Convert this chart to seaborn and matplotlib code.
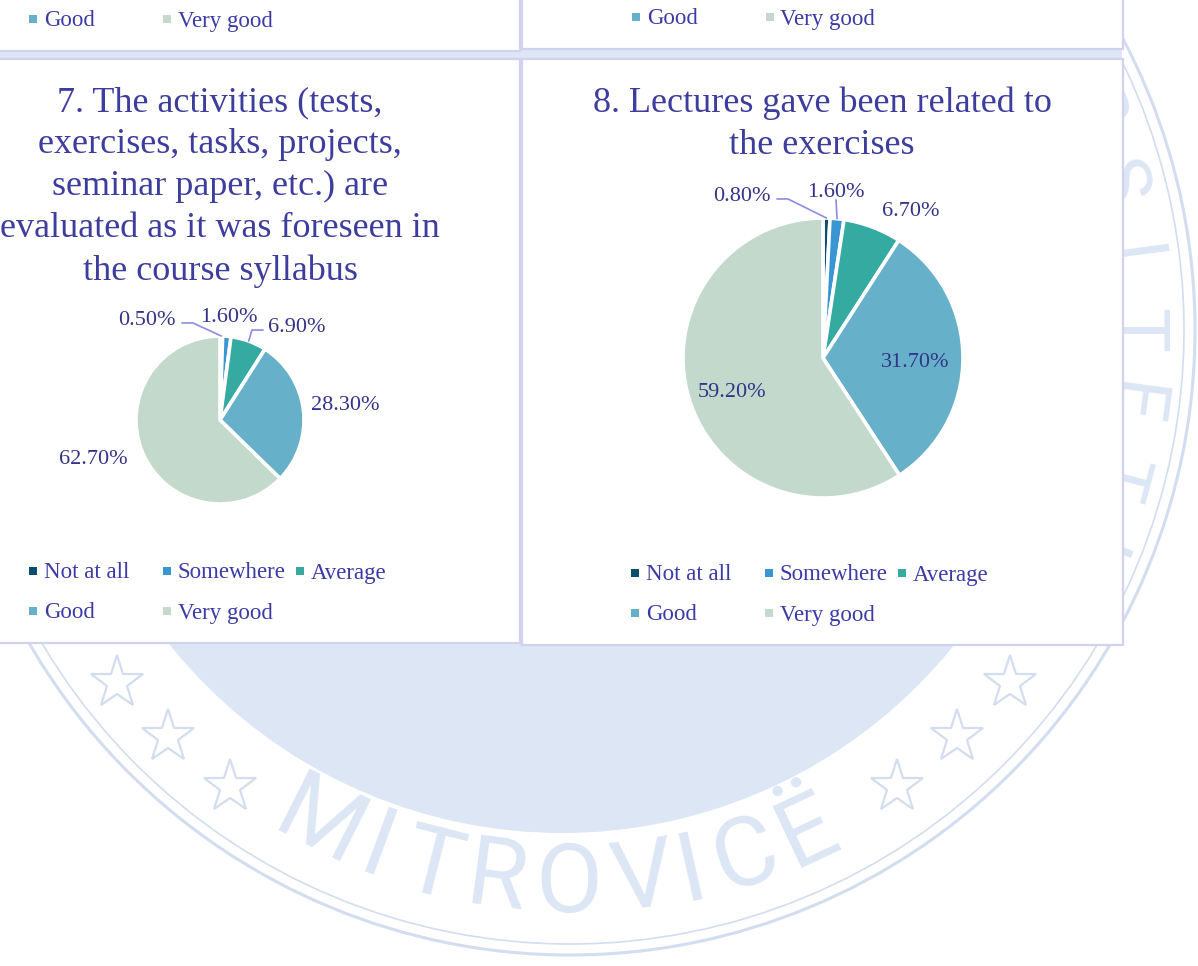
import numpy as np
import matplotlib
matplotlib.use("Agg")
import matplotlib.pyplot as plt
from matplotlib.patches import Rectangle, Circle
import seaborn as sns

# 数据
categories = ["Not at all", "Somewhere", "Average", "Good", "Very good"]
q7_title = ("7. The activities (tests,\nexercises, tasks, projects,\nseminar paper, etc.) are\n"
            "evaluated as it was foreseen in\nthe course syllabus")
q7_values = [0.5, 1.6, 6.9, 28.3, 62.7]
q8_title = "8. Lectures gave been related to\nthe exercises"
q8_values = [0.8, 1.6, 6.7, 31.7, 59.2]

# 标签位置（饼图半径为单位）
q7_label_pos = [(-0.869, 1.214), (0.101, 1.25), (0.917, 1.131), (1.488, 0.202), (-1.512, -0.44)]
q7_leaders = {0: [(-0.452, 1.155), (-0.321, 1.155)], 2: [(0.512, 1.071), (0.381, 1.071)]}
q8_label_pos = [(-0.579, 1.171), (0.093, 1.20), (0.629, 1.064), (0.657, -0.014), (-0.65, -0.229)]
q8_leaders = {0: [(-0.329, 1.136), (-0.25, 1.136)], 1: [(0.093, 1.129)]}

palette = sns.color_palette(["#0c4c6c", "#3a96d2", "#35aaa1", "#66b1c9", "#c2d9cc"])
title_color = "#3d3d9e"
label_color = "#333388"
legend_color = "#3b3ba5"
leader_color = "#8c8ce0"
wm_color = "#dce6f5"
wm_line = "#d2ddef"

W, H = 1198, 966
sns.set_theme(style="white")
plt.rcParams["font.family"] = ["Liberation Serif", "DejaVu Serif"]

fig = plt.figure(figsize=(W / 100, H / 100), dpi=100)
fig.patch.set_facecolor("white")
bg = fig.add_axes([0, 0, 1, 1])
bg.set_xlim(0, W)
bg.set_ylim(H, 0)
bg.axis("off")

# 背景水印
cy = 330
bg.add_patch(Circle((562, cy), 503, fc=wm_color, ec="none", zorder=0))
bg.add_patch(Circle((570, cy), 625, fill=False, ec=wm_line, lw=2.2, zorder=0))
bg.add_patch(Circle((570, cy), 614, fill=False, ec=wm_line, lw=1.2, zorder=0))
bg.add_patch(Rectangle((0, 49), 1122, 10, fc=wm_color, ec="none", zorder=0.5))
star_x = [117, 168, 230, 1010, 957, 897]
star_y = [683, 737, 787, 683, 737, 787]
bg.plot(star_x, star_y, ls="none", marker="*", ms=40, mfc="none", mec=wm_line, mew=1.6, zorder=0)

wm_font = dict(family=["Roboto", "Liberation Sans", "DejaVu Sans"], fontweight="normal", color=wm_color, zorder=0)
word = "MITROVICË"
word_angles = [-26.8, -20.3, -14.3, -7.5, -0.1, 7.5, 12.6, 18.4, 25.3]
for ch, phi in zip(word, word_angles):
    a = np.radians(-90 + phi)
    bg.text(570 + 556 * np.cos(a), cy - 556 * np.sin(a), ch, rotation=phi,
            ha="center", va="center", fontsize=70, **wm_font)
word = "ERSITETI"
for i, ch in enumerate(word):
    deg = 30 - i * 7.5
    a = np.radians(deg)
    bg.text(570 + 565 * np.cos(a), cy - 565 * np.sin(a), ch, rotation=deg - 90,
            ha="center", va="center", fontsize=54, **wm_font)

# 面板
panels = [(-10, -60, 530, 111), (522, -60, 601, 109), (-10, 59, 530, 584), (522, 59, 601, 586)]
for x, y, w, h in panels:
    bg.add_patch(Rectangle((x, y), w, h, fc="white", ec="#d2d2f0", lw=1.6, zorder=1))


def draw_legend(x0, y0, first=0):
    for i, cat in enumerate(categories):
        if i < first:
            continue
        x = x0 + (i % 3) * 133.5
        y = y0 + (i // 3) * 40
        bg.scatter(x, y, marker="s", s=26, color=palette[i], linewidths=0, zorder=5)
        bg.text(x + 11, y + 2, cat, ha="left", va="center", fontsize=16.5, color=legend_color, zorder=5)


def draw_pie(values, pcx, pcy, r, label_pos, leaders):
    span = 1.9
    ax = fig.add_axes([(pcx - span * r) / W, 1 - (pcy + span * r) / H, 2 * span * r / W, 2 * span * r / H])
    wedges, _ = ax.pie(values, colors=palette, startangle=90, counterclock=False,
                       wedgeprops=dict(edgecolor="white", linewidth=2.6))
    ax.set_xlim(-span, span)
    ax.set_ylim(-span, span)
    ax.axis("off")
    for i, (wdg, v, (tx, ty)) in enumerate(zip(wedges, values, label_pos)):
        ax.annotate(f"{v:.2f}%", (tx, ty), xytext=(0, -2.5), textcoords="offset pixels",
                    ha="center", va="center", fontsize=16, color=label_color)
        if i in leaders:
            mid = np.radians((wdg.theta1 + wdg.theta2) / 2)
            pts = leaders[i] + [(np.cos(mid), np.sin(mid))]
            ax.plot([p[0] for p in pts], [p[1] for p in pts], color=leader_color, lw=1.2)
    return ax


# 第 5、6 题图例（上方被裁切，只显示第二行）
draw_legend(33, -21, first=3)
draw_legend(636, -23, first=3)

# 第 7 题
bg.text(220, 187, q7_title, ha="center", va="center", fontsize=26, linespacing=1.36,
        color=title_color, zorder=5)
draw_pie(q7_values, 220, 420, 84, q7_label_pos, q7_leaders)
draw_legend(33, 571)

# 第 8 题
bg.text(822, 124, q8_title, ha="center", va="center", fontsize=26, linespacing=1.36,
        color=title_color, zorder=5)
draw_pie(q8_values, 823, 358, 140, q8_label_pos, q8_leaders)
draw_legend(635, 573)

fig.savefig("out.png", dpi=100)
plt.close(fig)
